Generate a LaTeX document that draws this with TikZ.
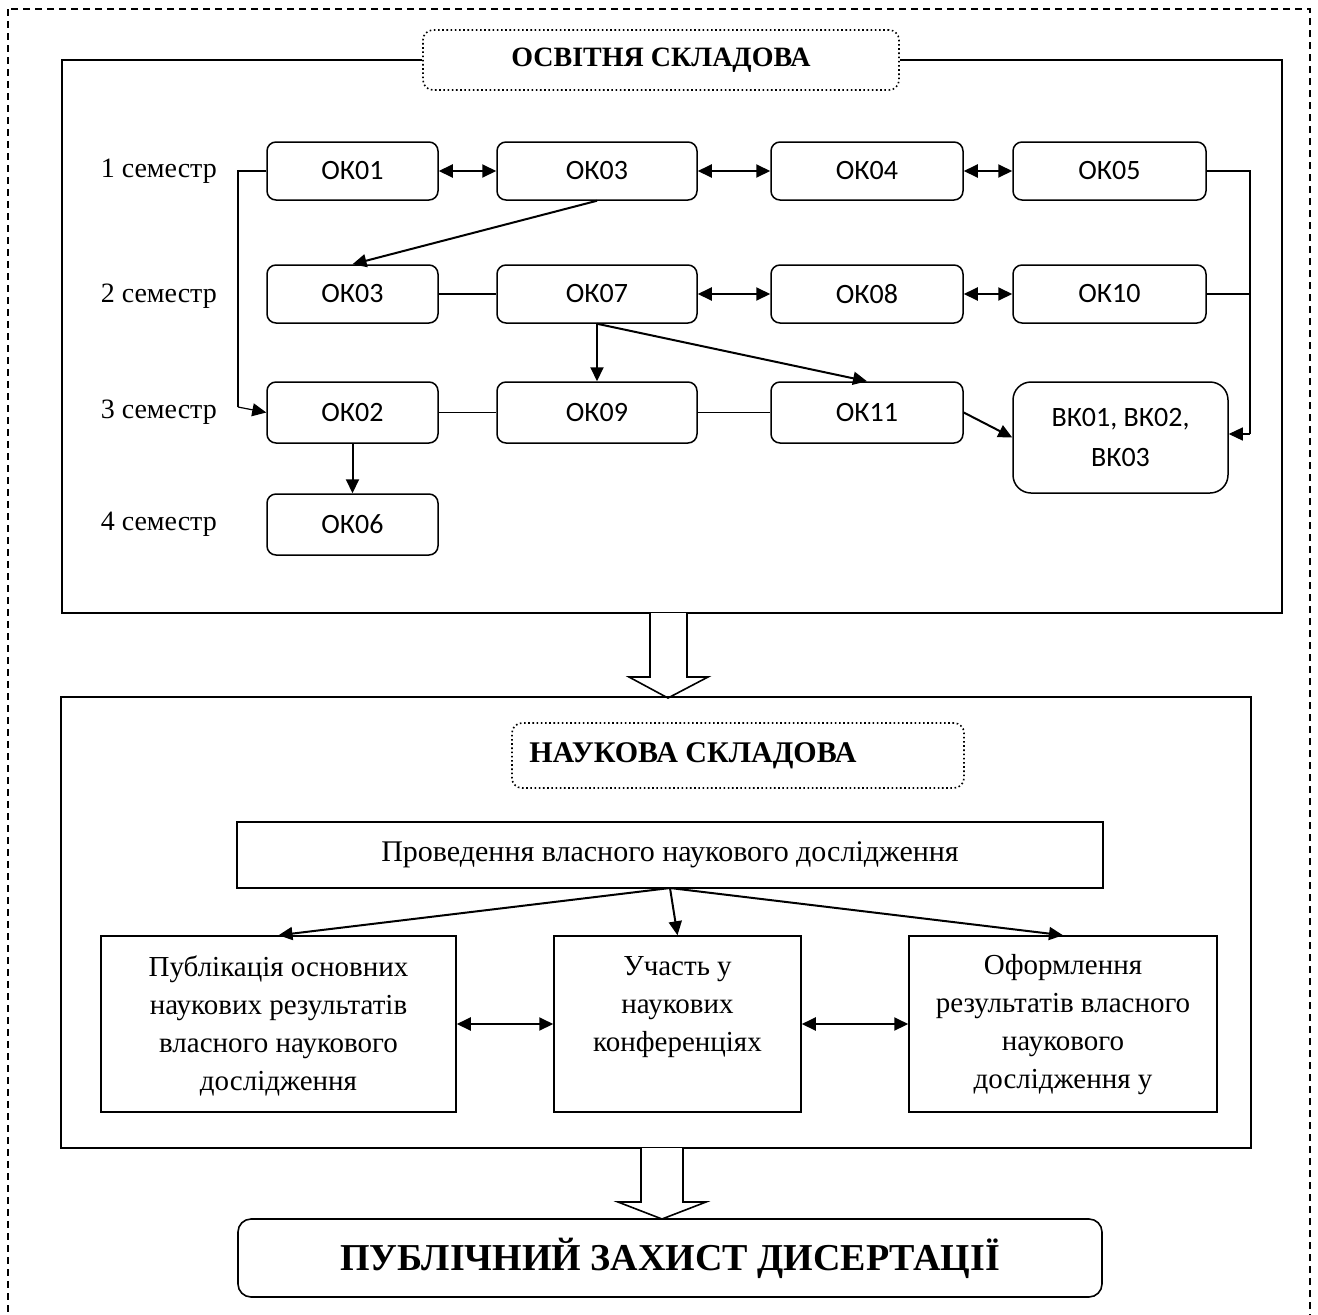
\documentclass[tikz,border=0pt]{standalone}
\usepackage{fontspec}
\setmainfont{Liberation Serif}
\newfontfamily\carlito{Carlito}
\usetikzlibrary{arrows.meta}
\tikzset{
  okbox/.style={draw, line width=1.5pt, rounded corners=9pt, inner sep=0pt,
    font=\carlito\fontsize{28}{34}\selectfont, minimum height=58pt},
  hdrbox/.style={draw, line width=1.6pt, dash pattern=on 1.6pt off 2.6pt, rounded corners=10pt,
    inner sep=0pt, font=\bfseries\fontsize{29}{34}\selectfont},
  sbox/.style={draw, line width=1.5pt, inner sep=0pt},
  stext/.style={inner sep=0pt, align=center, font=\fontsize{29}{38}\selectfont},
  semlabel/.style={inner sep=0pt, anchor=east, font=\fontsize{28}{34}\selectfont},
  frame/.style={line width=1.6pt},
  arr/.style={line width=2pt, -{Triangle[length=14pt,width=13pt]}},
  darr/.style={line width=2pt, {Triangle[length=14pt,width=13pt]}-{Triangle[length=14pt,width=13pt]}},
  plain/.style={line width=1.2pt},
  hollow/.style={draw, line width=1.6pt, fill=white}
}
\begin{document}
\begin{tikzpicture}[x=1pt,y=-1pt]
\clip (0,0) rectangle (1318,1315);
\fill[white] (0,0) rectangle (1318,1315);
% outer dashed border
\draw[line width=1.3pt, dash pattern=on 7pt off 5pt] (8,9) rectangle (1310,1340);

% ---------- educational component ----------
\node[hdrbox, minimum width=476pt, minimum height=60pt, font=\bfseries\fontsize{28}{34}\selectfont] (hdr1) at (661,60) {ОСВІТНЯ СКЛАДОВА};
\draw[frame] (hdr1.west) -- (62,60) -- (62,613) -- (1282,613) -- (1282,60) -- (hdr1.east);

\node[semlabel] (s1) at (217,171) {1 семестр};
\node[semlabel] (s2) at (217,296) {2 семестр};
\node[semlabel] (s3) at (217,412) {3 семестр};
\node[semlabel] (s4) at (217,524) {4 семестр};

\node[okbox, minimum width=171pt] (a1) at (352.5,171) {ОК01};
\node[okbox, minimum width=200pt] (a2) at (597,171) {ОК03};
\node[okbox, minimum width=192pt] (a3) at (867,171) {ОК04};
\node[okbox, minimum width=193pt] (a4) at (1109.5,171) {ОК05};

\node[okbox, minimum width=171pt] (b1) at (352.5,294) {ОК03};
\node[okbox, minimum width=200pt] (b2) at (597,294) {ОК07};
\node[okbox, minimum width=192pt] (b3) at (867,294) {ОК08};
\node[okbox, minimum width=193pt] (b4) at (1109.5,294) {ОК10};

\node[okbox, minimum width=171pt, minimum height=61pt] (c1) at (352.5,412.5) {ОК02};
\node[okbox, minimum width=200pt, minimum height=61pt] (c2) at (597,412.5) {ОК09};
\node[okbox, minimum width=192pt, minimum height=61pt] (c3) at (867,412.5) {ОК11};
\node[okbox, minimum width=215pt, minimum height=111pt, rounded corners=18pt, align=center,
  font=\carlito\fontsize{28}{40}\selectfont] (vk) at (1120.5,437.5) {ВК01, ВК02,\\ВК03};

\node[okbox, minimum width=171pt, minimum height=61pt] (d1) at (352.5,524.5) {ОК06};

% connectors row 1
\draw[darr] (a1) -- (a2);
\draw[darr] (a2) -- (a3);
\draw[darr] (a3) -- (a4);
% row 2
\draw[plain] (b1) -- (b2);
\draw[darr] (b2) -- (b3);
\draw[darr] (b3) -- (b4);
% row 3
\draw[plain] (c1) -- (c2);
\draw[plain] (c2) -- (c3);
\draw[arr] (c3.east) -- (vk.west);
% between rows
\draw[arr] (a2.south) -- (b1.north);
\draw[arr] (b2.south) -- (c2.north);
\draw[arr] (b2.south) -- (c3.north);
\draw[arr] (c1.south) -- (d1.north);
% left bracket
\coordinate (lk1) at (238,171);
\coordinate (lk2) at (238,407);
\draw[plain] (a1.west) -- (lk1) -- (lk2);
\draw[arr, line width=1.2pt] (lk2) -- (c1.west);
% right bracket
\coordinate (rk1) at (1250,171);
\coordinate (rk2) at (1250,434);
\draw[plain] (a4.east) -- (rk1) -- (rk2);
\draw[plain] (b4.east) -- (b4.east -| rk1);
\draw[arr, line width=1.2pt] (rk2) -- (vk.east |- rk2);

% hollow arrow 1
\draw[hollow] (650,613) -- (650,677) -- (629,677) -- (668,698) -- (708,677) -- (687,677) -- (687,613);

% ---------- scientific component ----------
\draw[frame] (61,697) rectangle (1251,1148);
\node[hdrbox, minimum width=452pt, minimum height=65pt, font=\bfseries\fontsize{30}{34}\selectfont] (hdr2) at (738,755.5) {НАУКОВА СКЛАДОВА\hspace*{90pt}};

\node[sbox, minimum width=866pt, minimum height=66pt, font=\fontsize{30}{34}\selectfont] (pr) at (670,855) {Проведення власного наукового дослідження};

\node[sbox, minimum width=355pt, minimum height=176pt] (p1) at (278.5,1024) {};
\node[sbox, minimum width=247pt, minimum height=176pt] (p2) at (677.5,1024) {};
\node[sbox, minimum width=308pt, minimum height=176pt] (p3) at (1063,1024) {};
\node[stext, anchor=north] (t1) at (278.5,956) {Публікація основних\\наукових результатів\\власного наукового\\дослідження};
\node[stext, anchor=north] (t2) at (677.5,956) {Участь у\\наукових\\конференціях};
\node[stext, anchor=north] (t3) at (1063,954) {Оформлення\\результатів власного\\наукового\\дослідження у};

\coordinate (prs) at (670,888);
\draw[arr] (prs) -- (p1.north);
\draw[arr] (prs) -- (p2.north);
\draw[arr] (prs) -- (p3.north);
\draw[darr] (p1.east) -- (p2.west);
\draw[darr] (p2.east) -- (p3.west);

% hollow arrow 2
\draw[hollow] (641,1148) -- (641,1202) -- (618,1202) -- (662,1219) -- (706,1202) -- (683,1202) -- (683,1148);

\node[draw, line width=1.6pt, rounded corners=13pt, minimum width=864pt, minimum height=78pt,
  inner sep=0pt, font=\bfseries\fontsize{38}{44}\selectfont] (fin) at (670,1258) {ПУБЛІЧНИЙ ЗАХИСТ ДИСЕРТАЦІЇ};
\end{tikzpicture}
\end{document}
